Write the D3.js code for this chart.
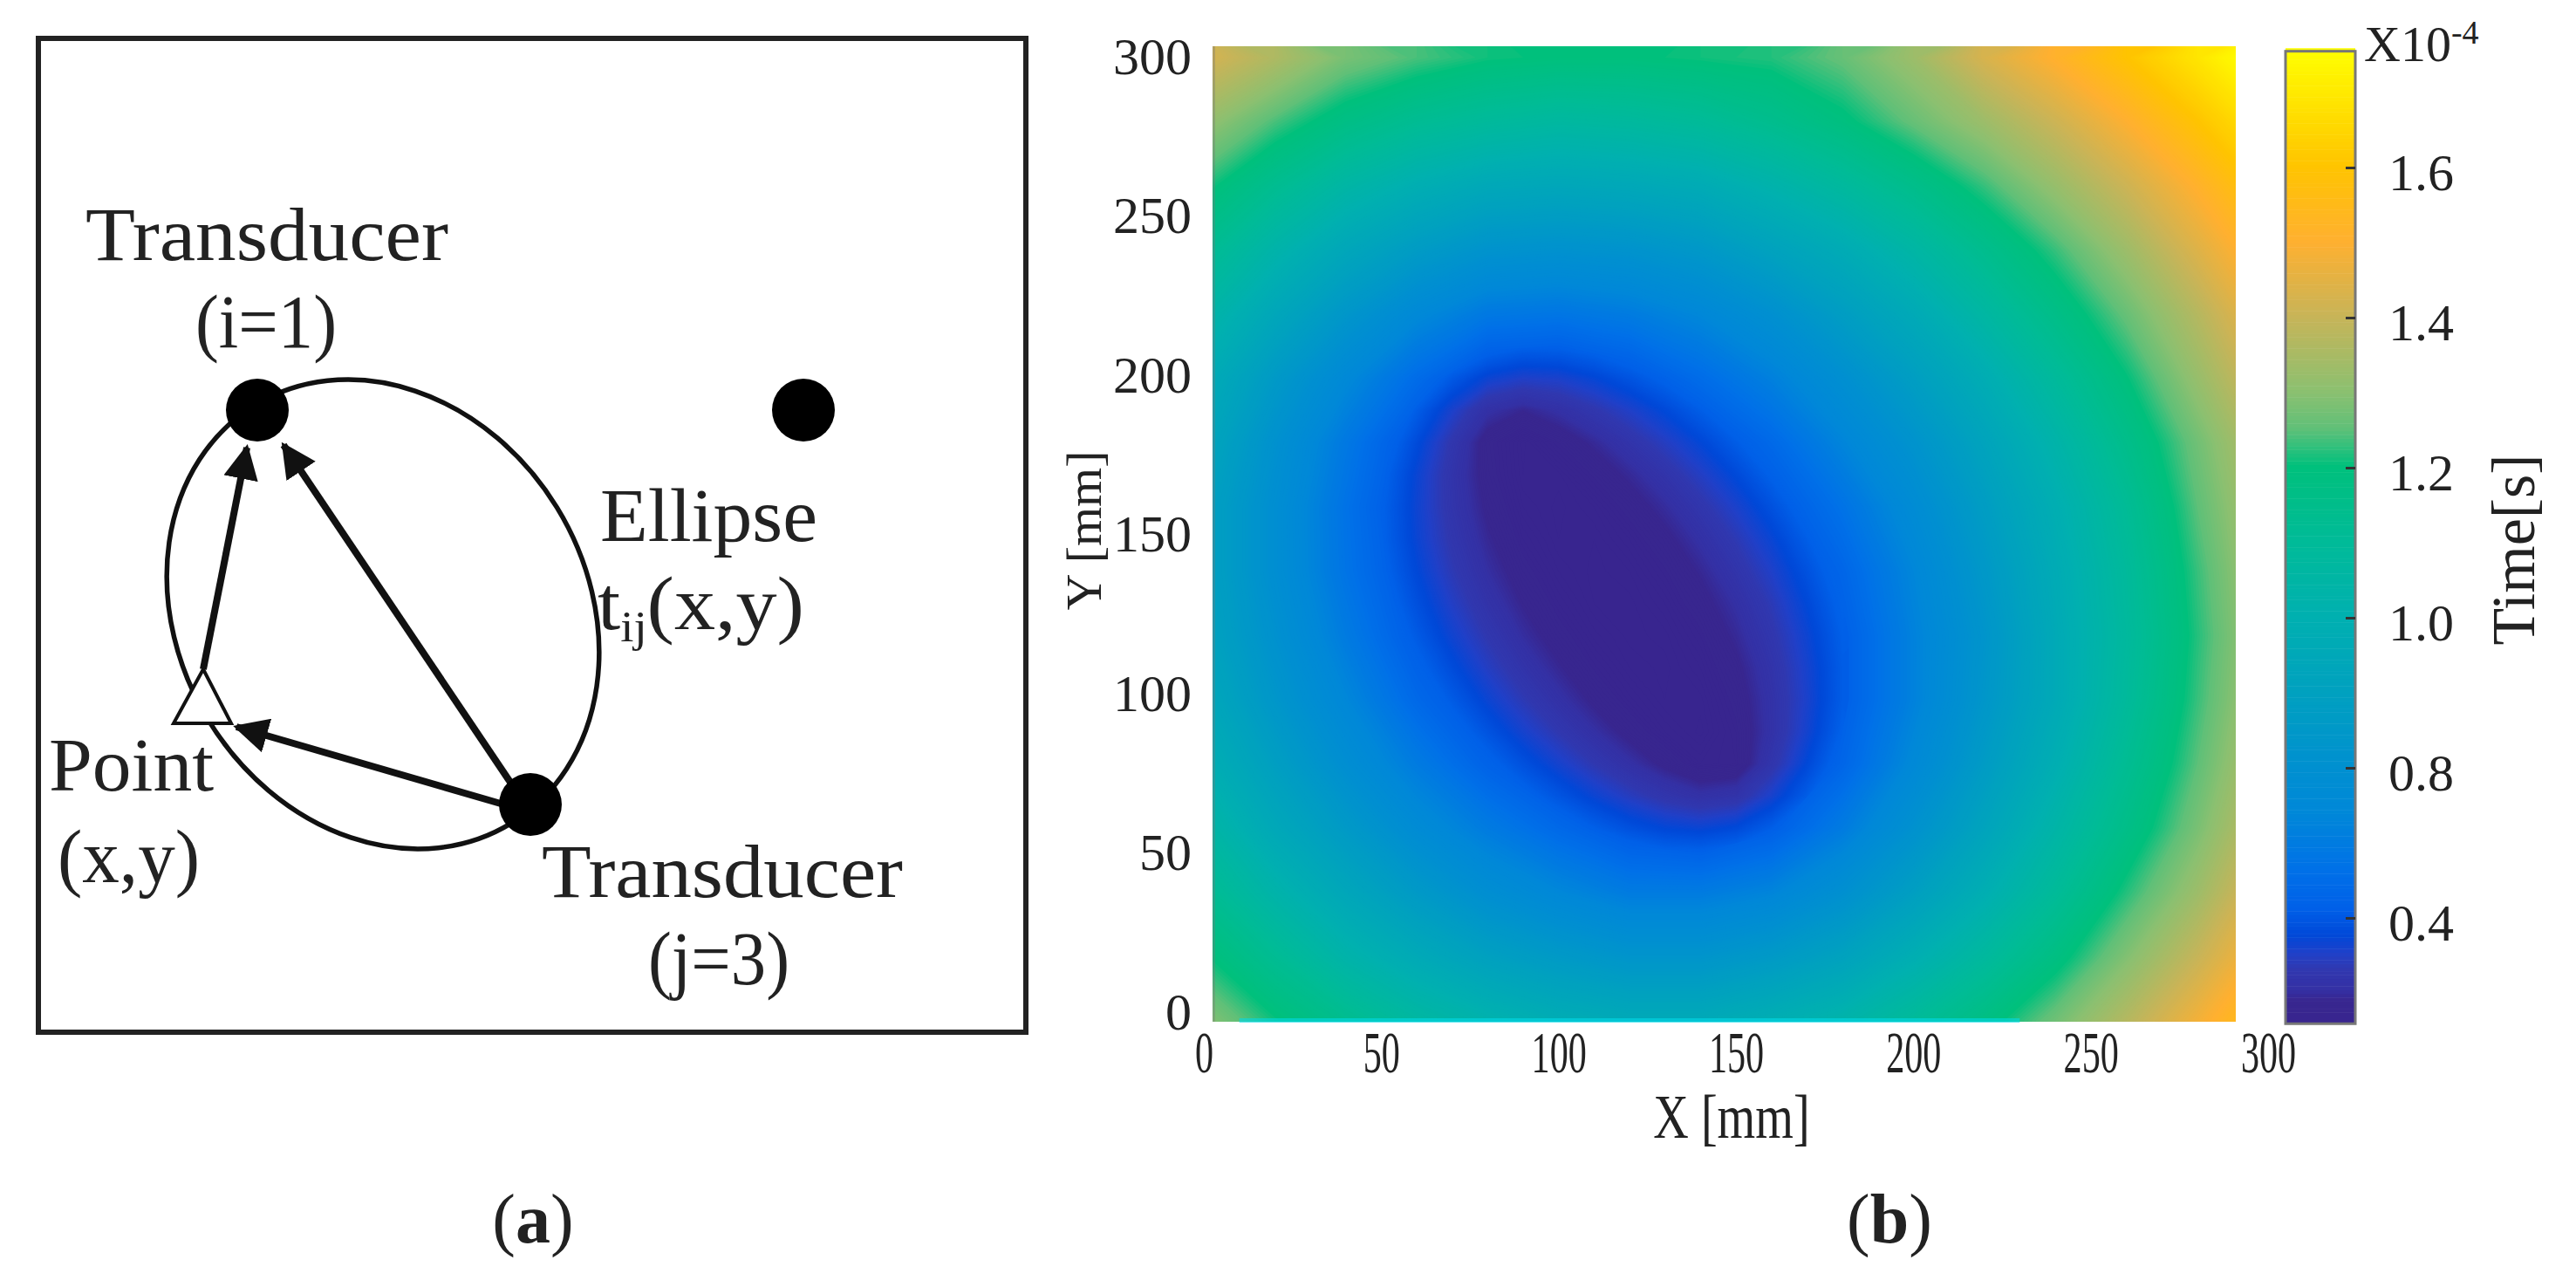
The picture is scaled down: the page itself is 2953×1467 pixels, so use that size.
<!DOCTYPE html>
<html>
<head>
<meta charset="utf-8">
<script src="https://cdn.jsdelivr.net/npm/d3@7"></script>
<style>
  html, body { margin: 0; background: #fff; }
  text { font-family: "Liberation Serif", serif; fill: #222; }
</style>
</head>
<body>
<div id="chart-area"></div>
<script>
// panel (b): arrival time, x10^-4 s, rows from Y=300 down to Y=0
const xGrid = [0, 20, 40, 60, 80, 100, 120, 140, 160, 180, 200, 220, 240, 260, 280, 300];
const yGrid = [300, 280, 260, 240, 220, 200, 180, 160, 140, 120, 100, 80, 60, 40, 20, 0];
const timeGrid = [
  1.43,1.36,1.28,1.24,1.21,1.20,1.20,1.21,1.22,1.26,1.33,1.43,1.51,1.60,1.69,1.79,
  1.32,1.24,1.17,1.12,1.09,1.07,1.08,1.10,1.14,1.19,1.26,1.33,1.41,1.50,1.60,1.70,
  1.22,1.13,1.05,0.99,0.95,0.94,0.95,0.97,1.02,1.08,1.15,1.23,1.32,1.41,1.51,1.62,
  1.13,1.03,0.94,0.87,0.82,0.81,0.82,0.85,0.91,0.97,1.05,1.14,1.23,1.33,1.44,1.55,
  1.05,0.94,0.84,0.75,0.69,0.68,0.70,0.74,0.80,0.88,0.96,1.06,1.16,1.26,1.37,1.49,
  0.98,0.86,0.75,0.65,0.565,0.555,0.59,0.65,0.715,0.795,0.885,0.98,1.09,1.20,1.32,1.44,
  0.94,0.81,0.69,0.58,0.48,0.47,0.52,0.57,0.64,0.73,0.82,0.92,1.03,1.15,1.27,1.39,
  0.91,0.79,0.67,0.565,0.485,0.46,0.48,0.52,0.59,0.67,0.77,0.88,0.99,1.11,1.25,1.37,
  0.91,0.79,0.675,0.58,0.50,0.46,0.46,0.49,0.55,0.63,0.735,0.85,0.97,1.09,1.23,1.36,
  0.92,0.81,0.70,0.60,0.53,0.48,0.46,0.47,0.525,0.61,0.72,0.83,0.96,1.08,1.22,1.35,
  0.95,0.84,0.74,0.64,0.57,0.51,0.47,0.46,0.51,0.61,0.72,0.84,0.96,1.09,1.23,1.36,
  0.997,0.89,0.79,0.70,0.62,0.56,0.51,0.466,0.52,0.63,0.75,0.87,0.99,1.12,1.25,1.38,
  1.06,0.95,0.86,0.77,0.70,0.64,0.59,0.57,0.61,0.70,0.81,0.92,1.04,1.16,1.28,1.41,
  1.13,1.03,0.94,0.86,0.79,0.74,0.70,0.70,0.73,0.80,0.89,0.99,1.10,1.22,1.33,1.46,
  1.21,1.12,1.03,0.96,0.90,0.86,0.83,0.83,0.86,0.91,0.99,1.08,1.18,1.29,1.40,1.52,
  1.30,1.21,1.14,1.07,1.02,0.98,0.96,0.96,0.99,1.03,1.10,1.18,1.27,1.37,1.48,1.59
];
// finer reading around the dark ellipse, 10 mm apart
const xCore = [50, 60, 70, 80, 90, 100, 110, 120, 130, 140, 150, 160, 170, 180];
const yCore = [220, 210, 200, 190, 180, 170, 160, 150, 140, 130, 120, 110, 100, 90, 80, 70, 60, 50];
const timeCore = [
  .791,.750,.717,.692,.679,.676,.683,.698,.718,.743,.772,.804,.840,.878,
  .741,.696,.657,.628,.614,.614,.625,.642,.666,.693,.723,.758,.795,.835,
  .698,.647,.601,.565,.550,.554,.571,.593,.618,.647,.680,.715,.753,.795,
  .662,.607,.554,.506,.490,.505,.526,.550,.577,.607,.640,.677,.716,.758,
  .637,.581,.526,.477,.459,.474,.494,.517,.544,.573,.606,.643,.683,.726,
  .622,.568,.518,.479,.460,.461,.475,.494,.517,.546,.578,.614,.654,.697,
  .616,.565,.520,.485,.464,.459,.464,.478,.498,.523,.554,.589,.629,.672,
  .617,.568,.526,.493,.470,.460,.460,.468,.483,.506,.534,.568,.608,.651,
  .623,.576,.535,.502,.478,.464,.459,.462,.473,.492,.518,.551,.590,.634,
  .634,.588,.548,.514,.488,.470,.460,.459,.466,.481,.504,.536,.576,.621,
  .648,.603,.563,.529,.500,.479,.465,.459,.461,.472,.494,.525,.565,.611,
  .667,.622,.582,.546,.516,.492,.473,.462,.459,.466,.484,.516,.558,.606,
  .689,.644,.604,.567,.535,.508,.485,.469,.460,.461,.477,.511,.555,.606,
  .714,.670,.630,.593,.559,.530,.504,.482,.466,.459,.472,.510,.560,.614,
  .744,.701,.661,.623,.589,.559,.531,.506,.484,.466,.470,.521,.576,.632,
  .778,.735,.696,.659,.625,.595,.567,.543,.522,.508,.516,.557,.607,.661,
  .815,.773,.735,.699,.667,.637,.611,.589,.574,.568,.579,.609,.651,.700,
  .856,.816,.778,.744,.713,.686,.663,.645,.633,.632,.643,.668,.703,.747
];
const axisTicks = [0, 50, 100, 150, 200, 250, 300];
const barTicks = [1.6, 1.4, 1.2, 1.0, 0.8, 0.6];
const barLabels = ["1.6", "1.4", "1.2", "1.0", "0.8", "0.4"];   // the picture really prints 0.4 on the lowest tick
const colorValues = [0.459, 0.488, 0.502, 0.53, 0.55, 0.575, 0.61, 0.66, 0.74, 0.8, 0.895, 1.0, 1.1, 1.2, 1.225, 1.25, 1.3, 1.4, 1.5, 1.6, 1.755];
const colorStops = ["#38258f", "#38268f", "#3430a4", "#3038b0", "#2040c8", "#0048d8", "#0060e8", "#0070e8", "#0088d8", "#0090d0", "#00a0c0", "#00b0b0",
                    "#00bb98", "#00c07c", "#30c07c", "#60c078", "#8cc070", "#c8b458", "#ffb030", "#ffc400", "#ffff00"];

// panel (a): schematic
const dots = [{ x: 295, y: 470 }, { x: 921, y: 470 }, { x: 608, y: 922 }];
const arrows = [
  { x1: 233, y1: 767, x2: 283, y2: 513 },
  { x1: 586, y1: 898, x2: 325, y2: 510 },
  { x1: 574, y1: 921, x2: 271, y2: 833 }
];
const labelsA = [
  { t: "Transducer", x: 98, y: 298, w: 416 },
  { t: "(i=1)", x: 224, y: 398, w: 162 },
  { t: "Ellipse", x: 688, y: 620, w: 249 },
  { t: "Point", x: 56, y: 906, w: 189 },
  { t: "(x,y)", x: 66, y: 1011, w: 163 },
  { t: "Transducer", x: 621, y: 1028, w: 414 },
  { t: "(j=3)", x: 743, y: 1128, w: 162 }
];

let svg = d3.select("#chart-area").append("svg")
    .attr("width", 2953)
    .attr("height", 1467)
    .style("display", "block");

// ---- panel a ----
let a = svg.append("g");
a.append("defs").append("marker")
    .attr("id", "head")
    .attr("viewBox", "0 0 10 10")
    .attr("refX", 9).attr("refY", 5)
    .attr("markerWidth", 5).attr("markerHeight", 5)
    .attr("orient", "auto")
  .append("path")
    .attr("d", "M0,0L10,5L0,10Z")
    .attr("fill", "#111");

a.append("rect")
    .attr("x", 44).attr("y", 44)
    .attr("width", 1132).attr("height", 1139)
    .attr("fill", "none")
    .attr("stroke", "#222")
    .attr("stroke-width", 6);

a.append("ellipse")
    .attr("rx", 281).attr("ry", 234)
    .attr("transform", "translate(439,704) rotate(58.4)")
    .attr("fill", "none")
    .attr("stroke", "#111")
    .attr("stroke-width", 5.5);

a.append("path")
    .attr("d", "M233,767L199,829L265,829Z")
    .attr("fill", "#fff")
    .attr("stroke", "#111")
    .attr("stroke-width", 4);

a.selectAll(".arrow").data(arrows).enter().append("line")
    .attr("class", "arrow")
    .attr("x1", d => d.x1).attr("y1", d => d.y1)
    .attr("x2", d => d.x2).attr("y2", d => d.y2)
    .attr("stroke", "#111")
    .attr("stroke-width", 8)
    .attr("marker-end", "url(#head)");

a.selectAll(".dot").data(dots).enter().append("circle")
    .attr("class", "dot")
    .attr("cx", d => d.x).attr("cy", d => d.y)
    .attr("r", 36)
    .attr("fill", "#000");

a.selectAll(".lab").data(labelsA).enter().append("text")
    .attr("class", "lab")
    .attr("x", d => d.x).attr("y", d => d.y)
    .attr("font-size", 86)
    .attr("textLength", d => d.w)
    .attr("lengthAdjust", "spacingAndGlyphs")
    .text(d => d.t);

let tij = a.append("text")
    .attr("transform", "translate(685,721) scale(1.095,1)")
    .attr("font-size", 86);
tij.append("tspan").text("t");
tij.append("tspan").attr("font-size", 50).attr("dy", 14).text("ij");
tij.append("tspan").attr("dy", -14).text("(x,y)");

// ---- panel b ----
let x = d3.scaleLinear().domain([0, 300]).range([1380, 2600]);
let y = d3.scaleLinear().domain([0, 300]).range([1170, 66]);
let yLabels = d3.scaleLinear().domain([0, 300]).range([1160, 65]);   // labels sit a little off the image in the picture
let heat = { left: 1390, right: 2563, top: 53, bottom: 1171 };

let color = d3.scaleLinear().domain(colorValues).range(colorStops).clamp(true);

svg.append("clipPath").attr("id", "heat-clip").append("rect")
    .attr("x", heat.left).attr("y", heat.top)
    .attr("width", heat.right - heat.left).attr("height", heat.bottom - heat.top);

// contour coordinates put grid point i at i + 0.5
function contourLayer(parent, xs, ys, values, levels) {
  let gx = d3.scaleLinear().domain([0.5, xs.length - 0.5]).range([x(xs[0]), x(xs[xs.length - 1])]);
  let gy = d3.scaleLinear().domain([0.5, ys.length - 0.5]).range([y(ys[0]), y(ys[ys.length - 1])]);
  let path = d3.geoPath(d3.geoTransform({
    point(px, py) { this.stream.point(gx(px), gy(py)); }
  }));
  let contours = d3.contours().size([xs.length, ys.length]).thresholds(levels)(values);
  parent.append("g").selectAll("path").data(contours).enter().append("path")
      .attr("d", path)
      .attr("fill", d => color(d.value));
}

// each contour fills everything above its level, so the fine core goes under
// the coarse field, which leaves a hole where it is below 0.62
let field = svg.append("g").attr("clip-path", "url(#heat-clip)");
contourLayer(field, xCore, yCore, timeCore, d3.range(0.45, 0.63, 0.002));
contourLayer(field, xGrid, yGrid, timeGrid, d3.range(0.62, 1.8, 0.005));

// pale fringe along the lower edge and grey line on the left of the image
svg.append("rect")
    .attr("x", x(10)).attr("y", heat.bottom - 4)
    .attr("width", x(230) - x(10)).attr("height", 5)
    .attr("fill", "#00d8e8").attr("opacity", 0.6);
svg.append("rect")
    .attr("x", heat.left).attr("y", heat.top)
    .attr("width", 3).attr("height", heat.bottom - heat.top)
    .attr("fill", "#777").attr("opacity", 0.35);

let xAxis = svg.append("g")
    .attr("transform", "translate(0,1180)")
    .call(d3.axisBottom(x).tickValues(axisTicks).tickSize(0).tickPadding(0));
xAxis.select(".domain").remove();
xAxis.selectAll("text")
    .attr("font-size", 68)
    .attr("font-family", "Liberation Serif")
    .attr("fill", "#222")
    .attr("y", 0).attr("dy", 0)
    .attr("transform", "translate(0,49) scale(0.62,1)");

let yAxis = svg.append("g")
    .attr("transform", "translate(1366,0)")
    .call(d3.axisLeft(yLabels).tickValues(axisTicks).tickSize(0).tickPadding(0));
yAxis.select(".domain").remove();
yAxis.selectAll("text")
    .attr("font-size", 60)
    .attr("font-family", "Liberation Serif")
    .attr("fill", "#222");

svg.append("text").attr("x", 1985).attr("y", 1304)
    .attr("text-anchor", "middle").attr("font-size", 72)
    .attr("transform", "translate(1985,0) scale(0.78,1) translate(-1985,0)")
    .text("X [mm]");

svg.append("text")
    .attr("transform", "translate(1262,608) rotate(-90)")
    .attr("text-anchor", "middle").attr("font-size", 58)
    .text("Y [mm]");

// colour bar
let barY = d3.scaleLinear().domain([0.6, 1.6]).range([1052, 192]);
let bar = { left: 2620, right: 2700 };
let barLevels = d3.range(0.459, 1.755, 0.005);
svg.append("g").selectAll("rect").data(barLevels).enter().append("rect")
    .attr("x", bar.left)
    .attr("width", bar.right - bar.left)
    .attr("y", d => barY(d + 0.005))
    .attr("height", d => barY(d) - barY(d + 0.005) + 0.5)
    .attr("fill", d => color(d));
svg.append("rect")
    .attr("x", bar.left).attr("y", barY(1.755))
    .attr("width", bar.right - bar.left).attr("height", barY(0.459) - barY(1.755))
    .attr("fill", "none").attr("stroke", "#777").attr("stroke-width", 3);

let barAxis = svg.append("g")
    .attr("transform", `translate(${bar.right},0)`)
    .call(d3.axisRight(barY).tickValues(barTicks).tickSize(-11).tickPadding(38)
      .tickFormat((d, i) => barLabels[i]));
barAxis.select(".domain").remove();
barAxis.selectAll("line").attr("stroke", "#333").attr("stroke-width", 3);
barAxis.selectAll("text")
    .attr("font-size", 60)
    .attr("font-family", "Liberation Serif")
    .attr("fill", "#222")
    .attr("y", 6);

let exp = svg.append("text").attr("x", 2710).attr("y", 70).attr("font-size", 58);
exp.append("tspan").text("X10");
exp.append("tspan").attr("font-size", 38).attr("dy", -20).text("-4");

svg.append("text")
    .attr("transform", "translate(2905,630) rotate(-90)")
    .attr("text-anchor", "middle").attr("font-size", 70)
    .text("Time[s]");

// sub captions
let capA = svg.append("text").attr("x", 611).attr("y", 1424).attr("text-anchor", "middle").attr("font-size", 80);
capA.append("tspan").text("(");
capA.append("tspan").attr("font-weight", "bold").text("a");
capA.append("tspan").text(")");
let capB = svg.append("text").attr("x", 2166).attr("y", 1424).attr("text-anchor", "middle").attr("font-size", 80);
capB.append("tspan").text("(");
capB.append("tspan").attr("font-weight", "bold").text("b");
capB.append("tspan").text(")");
</script>
</body>
</html>
